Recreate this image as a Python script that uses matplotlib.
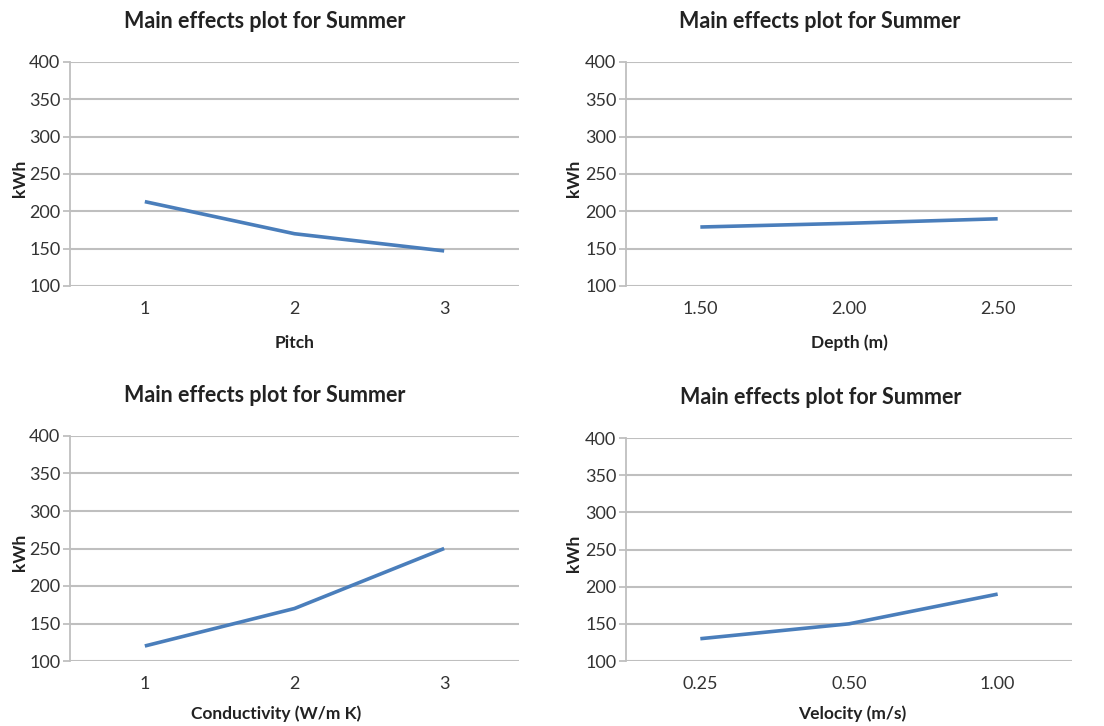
import matplotlib
matplotlib.use("Agg")
import matplotlib.pyplot as plt

# Main-effect means (kWh) for each factor level
pitch_levels = ["1", "2", "3"]
pitch_kwh = [213, 170, 147]

depth_levels = ["1.50", "2.00", "2.50"]
depth_kwh = [179, 184, 190]

conductivity_levels = ["1", "2", "3"]
conductivity_kwh = [120, 170, 250]

velocity_levels = ["0.25", "0.50", "1.00"]
velocity_kwh = [130, 150, 190]

y_ticks = [100, 150, 200, 250, 300, 350, 400]
title_text = "Main effects plot for Summer"

FONT = "Lato"
LINE_COLOR = "#4a7ebb"
GRID_COLOR = "#bfbfbf"
TEXT_COLOR = "#222222"

W, H = 1104, 726
fig = plt.figure(figsize=(W / 100, H / 100), dpi=100)
fig.patch.set_facecolor("white")


def px_axes(left, right, top, bottom):
    return fig.add_axes([left / W, 1 - bottom / H, (right - left) / W, (bottom - top) / H])


panels = [
    # (levels, values, xlabel, axes box px, title center px, xlabel center px, ylabel x px)
    (pitch_levels, pitch_kwh, "Pitch", (70, 519, 62, 286), (265, 22), (295, 343), 20),
    (depth_levels, depth_kwh, "Depth (m)", (626, 1072, 62, 286), (820, 22), (849, 343), 574),
    (conductivity_levels, conductivity_kwh, "Conductivity (W/m K)", (70, 519, 436, 661), (265, 395), (276, 714), 20),
    (velocity_levels, velocity_kwh, "Velocity (m/s)", (626, 1072, 438, 661), (821, 397), (852, 714), 574),
]

for levels, values, xlabel, box, tpos, xlpos, ylx in panels:
    ax = px_axes(*box)
    xs = list(range(len(levels)))
    ax.plot(xs, values, color=LINE_COLOR, linewidth=2.6, solid_capstyle="butt",
            solid_joinstyle="round", zorder=3)
    ax.set_xlim(-0.5, len(levels) - 0.5)
    ax.set_ylim(100, 400)
    ax.set_yticks(y_ticks)
    ax.set_xticks(xs)
    ax.set_xticklabels(levels)
    for s in ("top", "right", "bottom"):
        ax.spines[s].set_visible(False)
    ax.spines["left"].set_color(GRID_COLOR)
    ax.spines["left"].set_linewidth(1.3)
    ax.yaxis.grid(True, color=GRID_COLOR, linewidth=1.5)
    ax.set_axisbelow(True)
    ax.tick_params(axis="y", length=5, width=1.3, color=GRID_COLOR, pad=2,
                   labelsize=13, labelcolor="#333333")
    ax.tick_params(axis="x", length=0, pad=11, labelsize=13, labelcolor="#333333")
    for lab in ax.get_xticklabels() + ax.get_yticklabels():
        lab.set_fontfamily(FONT)

    fig.text(tpos[0] / W, 1 - tpos[1] / H, title_text, ha="center", va="center",
             fontsize=15.5, fontweight="bold", family=FONT, color=TEXT_COLOR)
    fig.text(xlpos[0] / W, 1 - xlpos[1] / H, xlabel, ha="center", va="center",
             fontsize=12.5, fontweight="bold", family=FONT, color=TEXT_COLOR)
    yc = (box[2] + box[3]) / 2 + 4
    fig.text(ylx / W, 1 - yc / H, "kWh", ha="center", va="center", rotation=90,
             fontsize=12.5, fontweight="bold", family=FONT, color=TEXT_COLOR)

fig.savefig("out.png", dpi=100, facecolor="white")
